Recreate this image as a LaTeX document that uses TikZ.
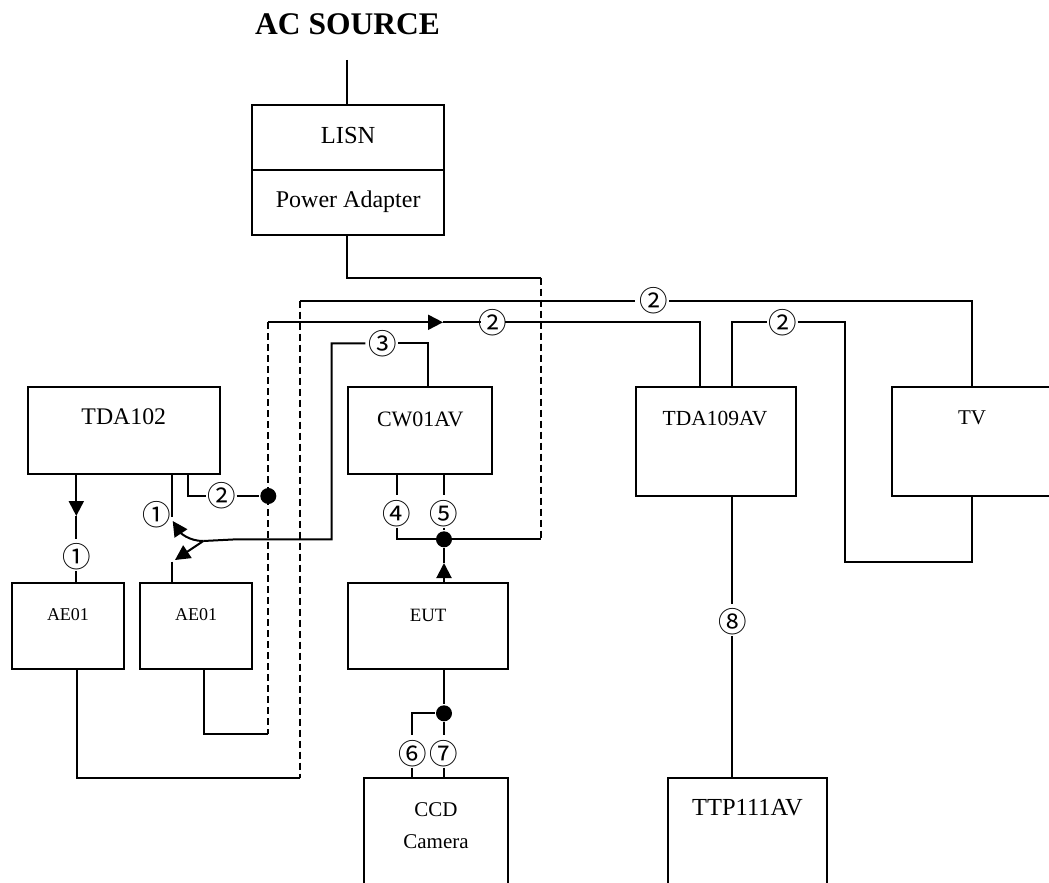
\documentclass[tikz,border=0pt]{standalone}
\usepackage{fontspec}
\setmainfont{Liberation Serif}
\newfontfamily\circfont{Noto Sans CJK SC}
\usetikzlibrary{arrows.meta,calc}
\begin{document}
\begin{tikzpicture}[x=1pt,y=-1pt,line width=2pt,
  box/.style={draw,rectangle,inner sep=0pt,outer sep=0pt,line width=2pt},
  btxt/.style={font=\fontsize{#1}{28}\selectfont,inner sep=0pt},
  btxt/.default=23.5,
  stxt/.style={font=\fontsize{#1}{22}\selectfont,inner sep=0pt},
  stxt/.default=18,
  num/.style={font=\circfont\fontsize{28.5}{32}\selectfont,inner sep=0pt},
  wire/.style={line width=2pt},
  dwire/.style={line width=2pt,dash pattern=on 7pt off 4pt},
  junction/.style={circle,fill=black,inner sep=0pt,minimum size=16pt},
  tip/.style={-{Triangle[length=15pt,width=15pt]}}]
\useasboundingbox (0,0) rectangle (1049,883);
\clip (0,0) rectangle (1049,883);

% ---------- boxes ----------
\node[font=\bfseries\fontsize{31.5}{36}\selectfont,inner sep=0pt] (ac) at (347.5,24) {AC SOURCE};
\node[box,minimum width=191.7pt,minimum height=65pt] (lisn) at (348.2,137.5) {};
\node[btxt=24.5] (lisnt) at (348.2,136) {LISN};
\node[box,minimum width=191.7pt,minimum height=65pt] (pa) at (348.2,202.5) {};
\node[btxt=24] (pat) at (348.2,202) {Power Adapter};

\node[box,minimum width=192.3pt,minimum height=87.6pt] (tda102) at (123.8,430.5) {};
\node[btxt=23.8] (tda102t) at (123.8,416.7) {TDA102};
\node[box,minimum width=144.3pt,minimum height=86.7pt] (cw) at (420.2,430.7) {};
\node[btxt=22] (cwt) at (420.2,419.3) {CW01AV};
\node[box,minimum width=160pt,minimum height=108.7pt] (tda109) at (716,441.7) {};
\node[btxt=21.5] (tda109t) at (715,418.3) {TDA109AV};
\node[box,minimum width=159.4pt,minimum height=108.7pt] (tv) at (972,441.7) {};
\node[btxt=21] (tvt) at (972,418) {TV};

\node[box,minimum width=112.6pt,minimum height=86pt] (ae1) at (68,626.3) {};
\node[stxt] (ae1t) at (68,615) {AE01};
\node[box,minimum width=112.3pt,minimum height=86pt] (ae2) at (196.2,626.3) {};
\node[stxt] (ae2t) at (196.2,615) {AE01};
\node[box,minimum width=160.3pt,minimum height=86.3pt] (eut) at (428.2,626.2) {};
\node[stxt=18.8] (eutt) at (428.2,615) {EUT};

\node[box,minimum width=144pt,minimum height=140pt] (ccd) at (436,848) {};
\node[btxt=21] (ccdt1) at (436,810) {CCD};
\node[btxt=21] (ccdt2) at (436,842) {Camera};
\node[box,minimum width=158.4pt,minimum height=140pt] (ttp) at (747.5,848) {};
\node[btxt=24.5] (ttpt) at (747.5,808) {TTP111AV};

% ---------- junctions ----------
\node[junction] (j1) at (444,539.3) {};
\node[junction] (j2) at (268.3,496) {};
\node[junction] (j3) at (444,713.3) {};

% ---------- labels ----------
\node[num] (n1a) at (76.3,556.7) {①};
\node[num] (n1b) at (156.7,515) {①};
\node[num] (n2a) at (221.7,496) {②};
\node[num] (n2b) at (653.3,300.7) {②};
\node[num] (n2c) at (493,322.3) {②};
\node[num] (n2d) at (782.7,322.3) {②};
\node[num] (n3) at (382.3,343.3) {③};
\node[num] (n4) at (396.7,513.3) {④};
\node[num] (n5) at (444,513.3) {⑤};
\node[num] (n6) at (412.3,753.3) {⑥};
\node[num] (n7) at (444,753.3) {⑦};
\node[num] (n8) at (732.3,621.7) {⑧};

% ---------- coordinates ----------
\coordinate (acw) at (347.3,60);
\coordinate (pw1) at (347.3,277.7);
\coordinate (pw2) at (540.5,277.7);
\coordinate (pw3) at (540.5,539.3);
\coordinate (eutarr) at (444,563);
\coordinate (a1) at (76.3,516);
\coordinate (b1) at (172.3,516.7);
\coordinate (b2) at (172.3,561.7);
\coordinate (sw) at (203.3,541);
\coordinate (sw0) at (236.7,539.3);
\coordinate (t1) at (172.7,521);
\coordinate (t2) at (175,560);
\coordinate (c0) at (428.3,343.3);
\coordinate (c1) at (331.7,343.3);
\coordinate (c2) at (331.7,539.3);
\coordinate (d0) at (188.3,496);
\coordinate (e1) at (268.3,322.3);
\coordinate (e2) at (268.3,734.3);
\coordinate (e3) at (204.3,734.3);
\coordinate (e4) at (700,322.3);
\coordinate (arr2) at (443,322.3);
\coordinate (f1) at (300,300.7);
\coordinate (f2) at (300,778);
\coordinate (f3) at (76.7,778);
\coordinate (f4) at (972.3,300.7);
\coordinate (g0) at (732.3,322.3);
\coordinate (g1) at (845,322.3);
\coordinate (g2) at (845,561.7);
\coordinate (g3) at (972.3,561.7);

% ---------- wires ----------
% AC source and power adapter
\draw[wire] (acw) -- (acw |- lisn.north);
\draw[wire] (pw1 |- pa.south) -- (pw1) -- (pw2);
\draw[dwire] (pw2) -- (pw3);
% CW01AV to EUT
\draw[wire] (n4 |- cw.south) -- ($(n4)+(0,-18)$);
\draw[wire] (n4) |- (pw3);
\draw[wire] (n5 |- cw.south) -- ($(n5)+(0,-18)$);
\draw[wire] (n5) -- (j1);
\draw[wire,tip] (j1 |- eut.north) -- (eutarr);
\draw[wire] (eutarr) -- (j1);
% EUT to CCD camera
\draw[wire] (j3 |- eut.south) -- (j3);
\draw[wire] (j3) -- ($(n7)+(0,-18)$);
\draw[wire] (n7) -- (n7 |- ccd.north);
\draw[wire] (j3) -| ($(n6)+(0,-18)$);
\draw[wire] (n6) -- (n6 |- ccd.north);
% TDA102 to AE01 (left)
\draw[wire,tip] (a1 |- tda102.south) -- (a1);
\draw[wire] (a1) -- ($(n1a)+(0,-18)$);
\draw[wire] (n1a) -- (n1a |- ae1.north);
% TDA102 / switch / AE01 (right)
\draw[wire] (b1 |- tda102.south) -- (b1);
\draw[wire] (b2) -- (b2 |- ae2.north);
\draw[wire,tip] (sw) .. controls (188,541) and (180,532) .. (t1);
\draw[wire,tip] (sw) -- (t2);
% cable 3 from CW01AV
\draw[wire] (c0 |- cw.north) -- (c0) -- ($(n3)+(16,0)$);
\draw[wire] ($(n3)+(-17,0)$) -- (c1) -- (c2) -- (sw0) -- (sw);
% TDA102 cable 2
\draw[wire] (d0 |- tda102.south) -- (d0) -- (n2a);
\draw[wire] ($(n2a)+(15,0)$) -- (j2);
% dashed x=268 and line to TDA109AV
\draw[dwire] (e1) -- (e2);
\draw[wire] (e2) -- (e3) -- (e3 |- ae2.south);
\draw[wire,tip] (e1) -- (arr2);
\draw[wire] (arr2) -- ($(n2c)+(-12,0)$);
\draw[wire] ($(n2c)+(12,0)$) -- (e4) -- (e4 |- tda109.north);
% dashed x=300 and line to TV
\draw[dwire] (f1) -- (f2);
\draw[wire] (f2) -- (f3) -- (f3 |- ae1.south);
\draw[wire] (f1) -- ($(n2b)+(-18,0)$);
\draw[wire] ($(n2b)+(16,0)$) -- (f4) -- (f4 |- tv.north);
% TDA109AV to TV
\draw[wire] (g0 |- tda109.north) -- (g0) -- (n2d);
\draw[wire] ($(n2d)+(15,0)$) -- (g1) -- (g2) -- (g3) -- (g3 |- tv.south);
% TDA109AV to TTP111AV
\draw[wire] (g0 |- tda109.south) -- ($(n8)+(0,-18)$);
\draw[wire] (n8) -- (n8 |- ttp.north);
\end{tikzpicture}
\end{document}
